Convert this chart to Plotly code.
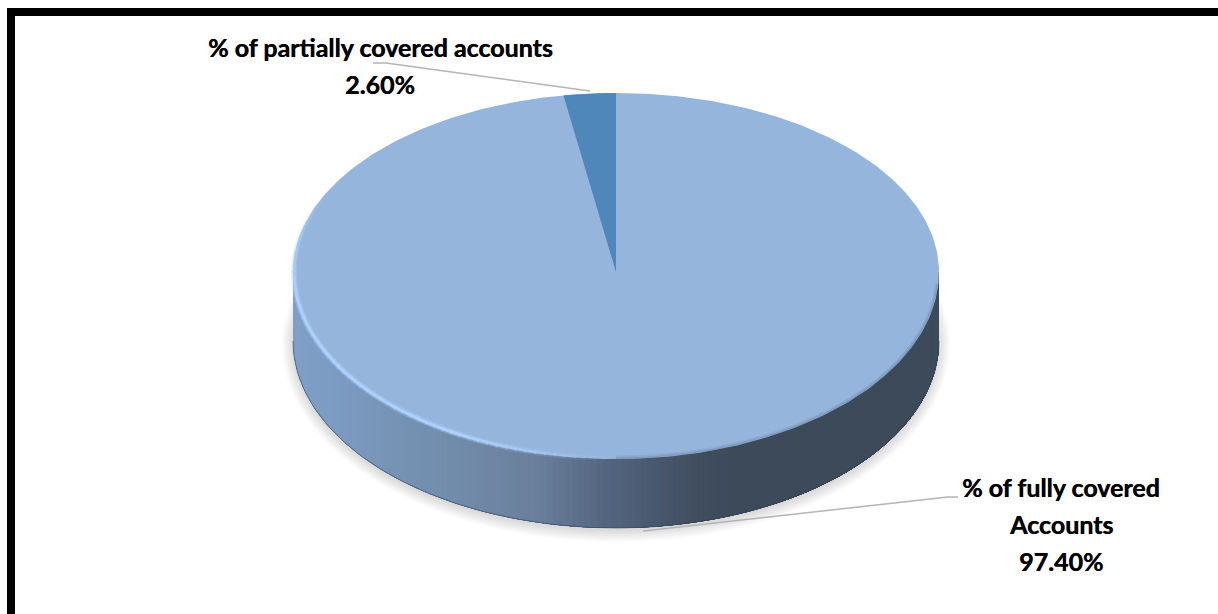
import numpy as np
import plotly.graph_objects as go

# data
categories = ["% of fully covered Accounts", "% of partially covered accounts"]
values = [97.40, 2.60]
value_labels = ["97.40%", "2.60%"]
label_lines_full = ["% of fully covered", "Accounts", "97.40%"]
label_lines_part = ["% of partially covered accounts", "2.60%"]

# colours
FACE = "#95b5dc"
WEDGE = "#4f87bb"
RIM = "#aed2fe"
LEADER = "#b4b4b4"
side_stops_x = [293, 340, 400, 470, 540, 600, 650, 700, 735, 939]
side_stops_c = [(128, 160, 200), (124, 155, 194), (118, 147, 180), (112, 138, 168), (106, 127, 155),
                (86, 104, 130), (74, 90, 113), (65, 78, 96), (61, 74, 89), (61, 74, 89)]

# pie geometry in picture coordinates
CX, CY, RX, RY_UP, RY_LOW, DEPTH = 616, 272, 323, 179, 187, 69


def ell(theta, grow=0.0, dy=0.0):
    """theta clockwise from the top, in radians."""
    c = np.cos(theta)
    ry = np.where(c >= 0, RY_UP, RY_LOW) + grow
    return CX + (RX + grow) * np.sin(theta), CY + dy - ry * c


def lerp_side(x):
    return tuple(np.interp(x, side_stops_x, [c[i] for c in side_stops_c]) for i in range(3))


def rgb(c):
    return f"rgb({int(c[0])},{int(c[1])},{int(c[2])})"


def poly(x, y, color, opacity=None):
    t = go.Scatter(x=x, y=y, mode="lines", fill="toself", fillcolor=color,
                   line=dict(width=0), hoverinfo="skip", showlegend=False)
    if opacity is not None:
        t.opacity = opacity
    return t


def stroke(x, y, color, width, opacity=1.0):
    return go.Scatter(x=x, y=y, mode="lines", line=dict(color=color, width=width), opacity=float(opacity),
                      hoverinfo="skip", showlegend=False)


fig = go.Figure()
full = np.linspace(0, 2 * np.pi, 361)

# soft shadow under the pie
for g in range(12, 0, -1):
    x, y = ell(full, grow=g - 1, dy=DEPTH + 3)
    fig.add_trace(poly(x, y, "rgb(120,120,120)", opacity=0.022))

# side wall: painted left to right, each layer reaching the right end, so no seams show
edges = np.linspace(np.pi / 2, 3 * np.pi / 2, 161)[::-1]
right_end = np.pi / 2
for a, b in zip(edges[:-1], edges[1:]):
    seg = np.linspace(a, right_end, 70)
    xt, yt = ell(seg)
    xb, yb = ell(seg, dy=DEPTH)
    lift = 6 * np.abs(np.cos(seg))
    col = rgb(lerp_side((ell(np.array([a]))[0][0] + ell(np.array([b]))[0][0]) / 2))
    fig.add_trace(poly(np.r_[xt, xb[::-1]], np.r_[yt - lift, yb[::-1]], col))
xb, yb = ell(edges, dy=DEPTH)
fig.add_trace(stroke(xb, yb, "rgb(50,62,78)", 1, 0.55))

# top face: the larger slice, then the smaller slice from its share
x, y = ell(full)
fig.add_trace(poly(x, y, FACE))
share = values[1] / sum(values) * 2 * np.pi
th = np.linspace(-share, 0, 16)
x, y = ell(th)
fig.add_trace(poly(np.r_[CX, x, CX], np.r_[CY, y, CY], WEDGE))

# soft edge where the dark wall meets the top face
th = np.linspace(np.pi * 0.52, np.pi * 1.0, 90)
x, y = ell(th, grow=-1)
fig.add_trace(stroke(x, y, "rgb(110,135,165)", 1.5, 0.55))
x, y = ell(th, grow=-2.5)
fig.add_trace(stroke(x, y, "rgb(130,158,195)", 1.5, 0.5))

# highlight along the front-left rim
rim_edges = np.linspace(np.pi * 1.0, np.pi * 1.64, 65)
for a, b in zip(rim_edges[:-1], rim_edges[1:]):
    f = (a - rim_edges[0]) / (rim_edges[-1] - rim_edges[0])
    op = float(np.clip(min(f * 4, 1, (1 - f) * 3.5), 0, 1))
    xs, ys = ell(np.linspace(a, b + 0.004, 3), grow=-1.0)
    fig.add_trace(stroke(xs, ys, RIM, 6, 0.35 * op))
    fig.add_trace(stroke(xs, ys, RIM, 3, 0.95 * op))

# leader lines
fig.add_trace(stroke([373, 386, 590], [63, 63, 91], LEADER, 1.5))
fig.add_trace(stroke([643, 948, 958], [531, 497, 497], LEADER, 1.5))

# labels
font = dict(family="Lato", size=25, color="#000000", weight="bold", shadow="0.4px 0 0 #000000")
ann = []
for line, yy in zip(label_lines_part, [47, 84]):
    ann.append(dict(x=380, y=yy, text=line, showarrow=False, font=font, xanchor="center", yanchor="middle"))
for line, yy in zip(label_lines_full, [487, 524, 561]):
    ann.append(dict(x=1061, y=yy, text=line, showarrow=False, font=font, xanchor="center", yanchor="middle"))

# black frame, open at the right and bottom
shapes = [
    dict(type="line", x0=11, x1=11, y0=8, y1=614, line=dict(color="#000000", width=8)),
    dict(type="line", x0=7, x1=1218, y0=12, y1=12, line=dict(color="#000000", width=8)),
]

fig.update_layout(
    width=1218, height=614, margin=dict(l=0, r=0, t=0, b=0),
    paper_bgcolor="#ffffff", plot_bgcolor="#ffffff", showlegend=False,
    xaxis=dict(range=[0, 1218], visible=False, fixedrange=True),
    yaxis=dict(range=[614, 0], visible=False, fixedrange=True),
    annotations=ann, shapes=shapes,
)
fig.write_html("out.html", post_script="document.body.style.margin='0';document.body.style.overflow='hidden';",
               config={"displayModeBar": False})
